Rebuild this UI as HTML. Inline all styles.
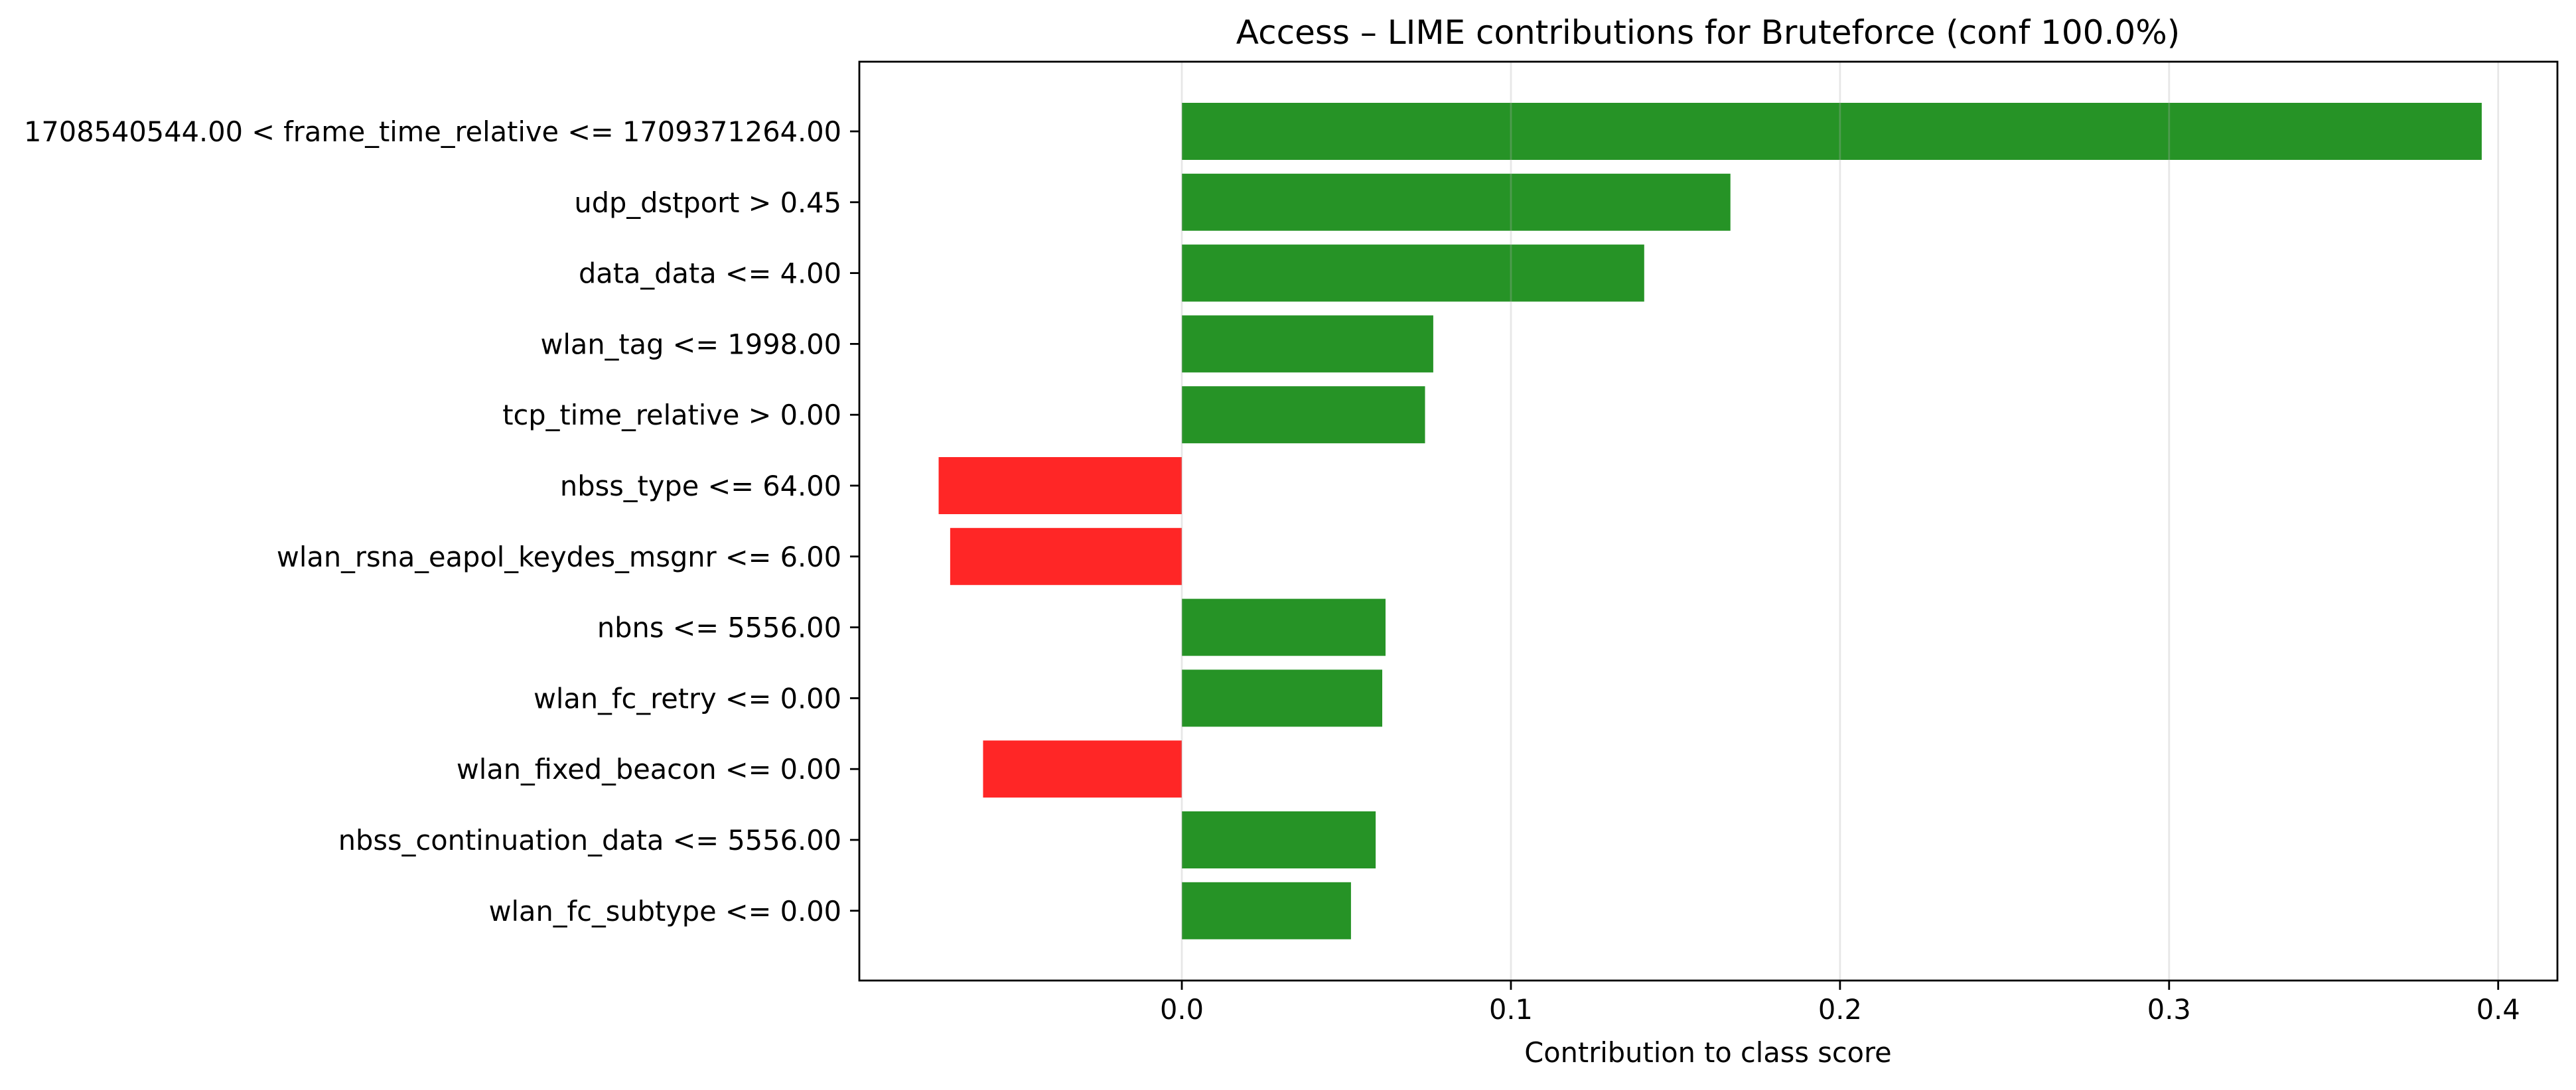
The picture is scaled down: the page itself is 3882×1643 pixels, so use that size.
<!DOCTYPE html>
<html><head><meta charset="utf-8"><style>
html,body{margin:0;padding:0;background:#fff;}
svg text{font-family:"DejaVu Sans","Liberation Sans",sans-serif;fill:#000;}
</style></head><body>
<svg id="chart" width="3882" height="1638" xmlns="http://www.w3.org/2000/svg">
<rect width="3882" height="1638" fill="#fff"/>
<text x="2574" y="66" font-size="50" text-anchor="middle">Access – LIME contributions for Bruteforce (conf 100.0%)</text>
<g id="bars"></g><g id="grid"></g><g id="yticks"></g><g id="xticks"></g>
<rect x="1295" y="93" width="2559" height="1385" fill="none" stroke="#000" stroke-width="2.8"/>
<text x="2574" y="1601" font-size="41.5" text-anchor="middle">Contribution to class score</text>
</svg>
<script>
const features = ["1708540544.00 < frame_time_relative <= 1709371264.00","udp_dstport > 0.45","data_data <= 4.00","wlan_tag <= 1998.00","tcp_time_relative > 0.00","nbss_type <= 64.00","wlan_rsna_eapol_keydes_msgnr <= 6.00","nbns <= 5556.00","wlan_fc_retry <= 0.00","wlan_fixed_beacon <= 0.00","nbss_continuation_data <= 5556.00","wlan_fc_subtype <= 0.00"];
const contributions = [0.395,0.1667,0.1405,0.0764,0.0739,-0.0739,-0.0704,0.0619,0.0609,-0.0604,0.0589,0.0514];
const xTicks = [0.0,0.1,0.2,0.3,0.4];
const xTickLabels = ["0.0","0.1","0.2","0.3","0.4"];
const NS="http://www.w3.org/2000/svg";
const L=1295,R=3854,T=93,B=1478,xmin=-0.098,xmax=0.418;
const xs=v=>L+(v-xmin)/(xmax-xmin)*(R-L);
const step=106.8, y0=198;
const yc=i=>y0+i*step;
function mk(t,a,p){const e=document.createElementNS(NS,t);for(const k in a)e.setAttribute(k,a[k]);p.appendChild(e);return e;}
const gb=document.getElementById('bars'),gg=document.getElementById('grid'),gy=document.getElementById('yticks'),gx=document.getElementById('xticks');
contributions.forEach((v,i)=>{
  const x1=xs(Math.min(0,v)),x2=xs(Math.max(0,v));
  const r=mk('rect',{x:x1,y:yc(i)-43,width:x2-x1,height:86,fill:v>=0?'#269326':'#ff2626'},gb);
  
  
  const tk=mk('line',{x1:L-14,x2:L,y1:yc(i),y2:yc(i),stroke:'#000','stroke-width':2.8},gy);
  
  
  const t=mk('text',{x:L-27,y:yc(i)+15,'font-size':41.5,'text-anchor':'end'},gy);
  t.textContent=features[i];
  
  
});
xTicks.forEach((v,i)=>{
  const x=xs(v);
  const g=mk('line',{x1:x,x2:x,y1:T,y2:B,stroke:'#b0b0b0','stroke-opacity':0.3,'stroke-width':2.8},gg);
  
  
  const tk=mk('line',{x1:x,x2:x,y1:B,y2:B+14,stroke:'#000','stroke-width':2.8},gx);
  
  
  const t=mk('text',{x:x,y:B+58,'font-size':41.5,'text-anchor':'middle'},gx);
  t.textContent=xTickLabels[i];
  
  
});
</script>
</body></html>
